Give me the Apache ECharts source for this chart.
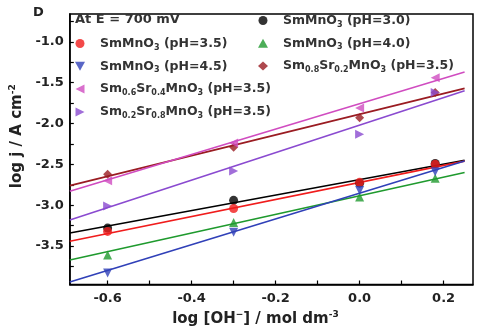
<!DOCTYPE html>
<html>
<head>
<meta charset="UTF-8">
<title>log j vs log [OH-]</title>
<script src="https://cdn.jsdelivr.net/npm/echarts@6/dist/echarts.min.js"></script>
<style>
  * {margin: 0; padding: 0;}
  body {background: #fff;}
</style>
</head>
<body>
<div id="chart" style="width:480px;height:332px"></div>
<script>
// measured points, x = log [OH-]
var xVals = [-0.6, -0.3, 0.0, 0.18];
var ph30 = [-3.28, -2.94, -2.73, -2.49];
var ph35 = [-3.32, -3.04, -2.72, -2.50];
var ph40 = [-3.61, -3.21, -2.90, -2.67];
var ph45 = [-3.83, -3.33, -2.82, -2.59];
var sr02 = [-2.62, -2.29, -1.93, -1.62];
var sr04 = [-2.70, -2.24, -1.81, -1.44];
var sr08 = [-3.01, -2.58, -2.13, -1.62];

// fitted lines, read at both ends
var fitX = [-0.69, 0.25];
var fit30 = [-3.34, -2.45];
var fit35 = [-3.44, -2.46];
var fit40 = [-3.67, -2.60];
var fit45 = [-3.94, -2.46];
var fitSr02 = [-2.76, -1.57];
var fitSr04 = [-2.83, -1.37];
var fitSr08 = [-3.18, -1.60];

var xLabels = [-0.6, -0.4, -0.2, 0.0, 0.2];
var xTicks = [-0.6, -0.5, -0.4, -0.3, -0.2, -0.1, 0.0, 0.1, 0.2];
var yLabels = [-3.5, -3.0, -2.5, -2.0, -1.5, -1.0];
var yTicks = [-3.75, -3.5, -3.25, -3.0, -2.75, -2.5, -2.25, -2.0, -1.75, -1.5, -1.25, -1.0, -0.75];

var names = ['SmMnO3 (pH=3.0)', 'SmMnO3 (pH=3.5)', 'SmMnO3 (pH=4.0)', 'SmMnO3 (pH=4.5)',
             'Sm0.8Sr0.2MnO3 (pH=3.5)', 'Sm0.6Sr0.4MnO3 (pH=3.5)', 'Sm0.2Sr0.8MnO3 (pH=3.5)'];
var labelsRich = {
  'SmMnO3 (pH=3.0)': '{g|}{b|SmMnO}{s|3}{b| (pH=3.0)}',
  'SmMnO3 (pH=3.5)': '{g|}{b|SmMnO}{s|3}{b| (pH=3.5)}',
  'SmMnO3 (pH=4.0)': '{g|}{b|SmMnO}{s|3}{b| (pH=4.0)}',
  'SmMnO3 (pH=4.5)': '{g|}{b|SmMnO}{s|3}{b| (pH=4.5)}',
  'Sm0.8Sr0.2MnO3 (pH=3.5)': '{g|}{b|Sm}{s|0.8}{b|Sr}{s|0.2}{b|MnO}{s|3}{b| (pH=3.5)}',
  'Sm0.6Sr0.4MnO3 (pH=3.5)': '{g|}{b|Sm}{s|0.6}{b|Sr}{s|0.4}{b|MnO}{s|3}{b| (pH=3.5)}',
  'Sm0.2Sr0.8MnO3 (pH=3.5)': '{g|}{b|Sm}{s|0.2}{b|Sr}{s|0.8}{b|MnO}{s|3}{b| (pH=3.5)}'
};
var colors = ['#000000', '#f01c1c', '#1f9a2e', '#3040b8', '#9a1c22', '#d04cc0', '#8a4ad0'];
var symbols = ['circle', 'circle', 'triangle', 'path://M0,0L10,0L5,9Z',
               'diamond', 'path://M10,0L0,5L10,10Z', 'path://M0,0L10,5L0,10Z'];
var pointSets = [ph30, ph35, ph40, ph45, sr02, sr04, sr08];
var fitSets = [fit30, fit35, fit40, fit45, fitSr02, fitSr04, fitSr08];

function pairs(xs, ys) {
  var out = [];
  for (var i = 0; i < xs.length; i++) out.push([xs[i], ys[i]]);
  return out;
}

var series = [];
for (var i = 0; i < names.length; i++) {
  series.push({
    name: 'fit' + i,
    type: 'line',
    data: pairs(fitX, fitSets[i]),
    showSymbol: false,
    silent: true,
    lineStyle: {color: colors[i], width: 1.6},
    z: 2
  });
}
for (var i = 0; i < names.length; i++) {
  series.push({
    name: names[i],
    type: 'scatter',
    data: pairs(xVals, pointSets[i]),
    symbol: symbols[i],
    symbolSize: 9,
    itemStyle: {color: colors[i]},
    z: 3
  });
}

var font = 'DejaVu Sans';
var legendRich = {
  g: {width: 10, lineHeight: 16},
  b: {fontFamily: font, fontWeight: 'bold', fontSize: 12.5, color: '#333', lineHeight: 16},
  s: {fontFamily: font, fontWeight: 'bold', fontSize: 8, color: '#333', lineHeight: 10, verticalAlign: 'bottom'}
};
function legendFmt(n) { return labelsRich[n]; }

var chart = echarts.init(document.getElementById('chart'), null, {renderer: 'canvas'});
var option = {
  animation: false,
  backgroundColor: '#fff',
  title: {
    text: 'D', left: 28, top: 1,
    textStyle: {fontFamily: font, fontWeight: 'bold', fontSize: 13, color: '#222'}
  },
  graphic: [{
    type: 'text', left: 75, top: 13,
    style: {text: 'At E = 700 mV', font: 'bold 13px "DejaVu Sans"', fill: '#333'}
  }],
  legend: [{
    data: [names[1], names[3], names[5], names[6]],
    orient: 'vertical', left: 70, top: 32,
    itemWidth: 10, itemHeight: 9, itemGap: 8.3,
    formatter: legendFmt,
    textStyle: {rich: legendRich}
  }, {
    data: [names[0], names[2], names[4]],
    orient: 'vertical', left: 253, top: 9,
    itemWidth: 10, itemHeight: 9, itemGap: 8.3,
    formatter: legendFmt,
    textStyle: {rich: legendRich}
  }],
  grid: {
    left: 67, right: 7, top: 14, bottom: 47,
    show: true, borderColor: '#000', borderWidth: 1.5, backgroundColor: 'transparent'
  },
  xAxis: {
    type: 'value', min: -0.69, max: 0.27,
    name: '{b|log [OH}{p|−}{b|] / mol dm}{p|-3}',
    nameLocation: 'middle', nameGap: 26,
    nameTextStyle: {
      padding: [0, 32, 0, 0],
      rich: {
        b: {fontFamily: font, fontWeight: 'bold', fontSize: 15, color: '#222', lineHeight: 18},
        p: {fontFamily: font, fontWeight: 'bold', fontSize: 9, color: '#222', lineHeight: 10, verticalAlign: 'top'}
      }
    },
    axisLine: {onZero: false, lineStyle: {color: '#000', width: 1.5}},
    axisTick: {inside: true, length: 4, customValues: xTicks, lineStyle: {color: '#000', width: 1.2}},
    axisLabel: {
      customValues: xLabels, margin: 8,
      fontFamily: font, fontWeight: 'bold', fontSize: 13, color: '#222',
      formatter: function (v) { return v.toFixed(1); }
    },
    splitLine: {show: false}
  },
  yAxis: {
    type: 'value', min: -3.97, max: -0.66,
    name: '{b|log j / A cm}{p|-2}',
    nameLocation: 'middle', nameGap: 42,
    nameTextStyle: {
      padding: [0, 0, 0, 26],
      rich: {
        b: {fontFamily: font, fontWeight: 'bold', fontSize: 15, color: '#222', lineHeight: 18},
        p: {fontFamily: font, fontWeight: 'bold', fontSize: 9, color: '#222', lineHeight: 10, verticalAlign: 'top'}
      }
    },
    axisLine: {onZero: false, lineStyle: {color: '#000', width: 1.5}},
    axisTick: {inside: true, length: 4, customValues: yTicks, lineStyle: {color: '#000', width: 1.2}},
    axisLabel: {
      customValues: yLabels, margin: 6,
      fontFamily: font, fontWeight: 'bold', fontSize: 13, color: '#222',
      formatter: function (v) { return v.toFixed(1); }
    },
    splitLine: {show: false}
  },
  series: series
};
chart.setOption(option);
</script>
</body>
</html>
